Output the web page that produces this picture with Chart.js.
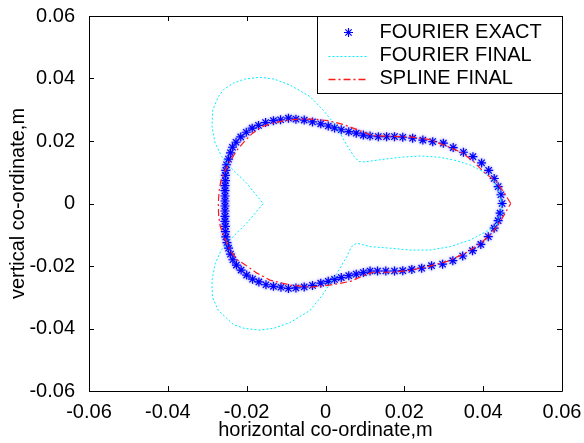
<!DOCTYPE html>
<html>
<head>
<meta charset="utf-8">
<script src="https://cdn.jsdelivr.net/npm/chart.js@4/dist/chart.umd.min.js"></script>
<style>
  html, body { margin: 0; padding: 0; background: #fff; }
  #wrap { width: 584px; height: 443px; }
</style>
</head>
<body>
<div id="wrap"><canvas id="c" width="584" height="443"></canvas></div>
<script>
const tickValues = [-0.06, -0.04, -0.02, 0, 0.02, 0.04, 0.06];
const tickLabels = ['-0.06', '-0.04', '-0.02', '0', '0.02', '0.04', '0.06'];
const seriesNames = ['FOURIER EXACT', 'FOURIER FINAL', 'SPLINE FINAL'];

// FOURIER EXACT (stars)
const exactX = [0.0448, 0.0445, 0.0438, 0.0428, 0.0414, 0.0396, 0.0374, 0.0350, 0.0324, 0.0299, 0.0272, 0.0247, 0.0221, 0.0196, 0.0175, 0.0155, 0.0134, 0.0113, 0.0096, 0.0078, 0.0059, 0.0040, 0.0023, 0.0007, -0.0012, -0.0033, -0.0054, -0.0075, -0.0094, -0.0114, -0.0132, -0.0152, -0.0170, -0.0186, -0.0201, -0.0215, -0.0227, -0.0236, -0.0241, -0.0246, -0.0251, -0.0253, -0.0254, -0.0254, -0.0255, -0.0255, -0.0255, -0.0255,
  -0.0255, -0.0255, -0.0255, -0.0255, -0.0254, -0.0254, -0.0253, -0.0250, -0.0246, -0.0241, -0.0235, -0.0226, -0.0214, -0.0200, -0.0185, -0.0169, -0.0151, -0.0132, -0.0113, -0.0094, -0.0075, -0.0054, -0.0033, -0.0012, 0.0007, 0.0023, 0.0040, 0.0059, 0.0078, 0.0096, 0.0113, 0.0132, 0.0153, 0.0175, 0.0196, 0.0219, 0.0244, 0.0269, 0.0297, 0.0323, 0.0348, 0.0373, 0.0394, 0.0413, 0.0428, 0.0438, 0.0443];
const exactY = [0.0000, 0.0028, 0.0054, 0.0080, 0.0106, 0.0130, 0.0150, 0.0164, 0.0179, 0.0193, 0.0198, 0.0203, 0.0209, 0.0212, 0.0214, 0.0214, 0.0214, 0.0216, 0.0219, 0.0225, 0.0230, 0.0236, 0.0242, 0.0248, 0.0255, 0.0261, 0.0267, 0.0270, 0.0273, 0.0268, 0.0265, 0.0259, 0.0250, 0.0241, 0.0228, 0.0213, 0.0196, 0.0180, 0.0162, 0.0142, 0.0124, 0.0106, 0.0090, 0.0073, 0.0057, 0.0041, 0.0024, 0.0008,
  -0.0008, -0.0024, -0.0041, -0.0057, -0.0073, -0.0090, -0.0107, -0.0125, -0.0143, -0.0162, -0.0180, -0.0197, -0.0213, -0.0229, -0.0242, -0.0251, -0.0260, -0.0265, -0.0268, -0.0272, -0.0270, -0.0267, -0.0262, -0.0255, -0.0249, -0.0243, -0.0237, -0.0231, -0.0226, -0.0221, -0.0216, -0.0216, -0.0216, -0.0216, -0.0215, -0.0211, -0.0207, -0.0199, -0.0194, -0.0183, -0.0168, -0.0151, -0.0131, -0.0106, -0.0079, -0.0055, -0.0031];

// FOURIER FINAL (cyan dotted)
const fourierX = [0.0444, 0.0438, 0.0426, 0.0400, 0.0367, 0.0333, 0.0290, 0.0240, 0.0189, 0.0138, 0.0100, 0.0085, 0.0073, 0.0060, 0.0049, 0.0028, -0.0006, -0.0039, -0.0090, -0.0130, -0.0166, -0.0205, -0.0234, -0.0258, -0.0272, -0.0286, -0.0288, -0.0280, -0.0263, -0.0247, -0.0200, -0.0158, -0.0200, -0.0247, -0.0265, -0.0280, -0.0288, -0.0287, -0.0272, -0.0234, -0.0205, -0.0166, -0.0130, -0.0090, -0.0039, -0.0006, 0.0028, 0.0054, 0.0066, 0.0079, 0.0113, 0.0164, 0.0214, 0.0265, 0.0316, 0.0367, 0.0400, 0.0430, 0.0447, 0.0444];
const fourierY = [0.0011, 0.0043, 0.0075, 0.0102, 0.0123, 0.0137, 0.0148, 0.0152, 0.0148, 0.0140, 0.0133, 0.0134, 0.0150, 0.0175, 0.0198, 0.0246, 0.0299, 0.0342, 0.0379, 0.0398, 0.0404, 0.0398, 0.0385, 0.0365, 0.0342, 0.0299, 0.0246, 0.0193, 0.0150, 0.0123, 0.0065, 0.0000, -0.0063, -0.0122, -0.0150, -0.0193, -0.0246, -0.0299, -0.0342, -0.0387, -0.0400, -0.0405, -0.0399, -0.0381, -0.0342, -0.0290, -0.0225, -0.0170, -0.0138, -0.0127, -0.0138, -0.0143, -0.0149, -0.0149, -0.0138, -0.0117, -0.0095, -0.0074, -0.0031, 0.0011];

// SPLINE FINAL (red dash-dot)
const splineX = [0.0470, 0.0451, 0.0432, 0.0404, 0.0375, 0.0347, 0.0309, 0.0262, 0.0215, 0.0168, 0.0120, 0.0083, 0.0045, 0.0007, -0.0031, -0.0068, -0.0106, -0.0140, -0.0162, -0.0185, -0.0205, -0.0225, -0.0240, -0.0255, -0.0265, -0.0270, -0.0272, -0.0271, -0.0267, -0.0257, -0.0243, -0.0224, -0.0205, -0.0175, -0.0141, -0.0090, -0.0039, 0.0017, 0.0064, 0.0092, 0.0120, 0.0168, 0.0215, 0.0262, 0.0309, 0.0356, 0.0394, 0.0423, 0.0446, 0.0470];
const splineY = [0.0000, 0.0039, 0.0071, 0.0098, 0.0135, 0.0162, 0.0183, 0.0205, 0.0213, 0.0215, 0.0217, 0.0235, 0.0253, 0.0265, 0.0270, 0.0270, 0.0265, 0.0255, 0.0245, 0.0225, 0.0200, 0.0170, 0.0140, 0.0105, 0.0075, 0.0040, 0.0000, -0.0041, -0.0073, -0.0105, -0.0148, -0.0180, -0.0195, -0.0222, -0.0245, -0.0261, -0.0268, -0.0260, -0.0249, -0.0233, -0.0220, -0.0220, -0.0214, -0.0201, -0.0185, -0.0158, -0.0127, -0.0094, -0.0052, 0.0000];

const pts = (xs, ys) => xs.map((x, i) => ({ x: x, y: ys[i] }));

const FONT = { family: "'Liberation Sans', Arial, sans-serif", size: 20 };
const BLUE = '#0000ff', CYAN = '#00eeff', RED = '#ff1a1a';
const CYAN_DASH = [2, 2], RED_DASH = [7, 3, 2, 3];

function drawStar(ctx, x, y, r) {
  const d = r * 0.7071;
  ctx.beginPath();
  ctx.moveTo(x - r, y); ctx.lineTo(x + r, y);
  ctx.moveTo(x, y - r); ctx.lineTo(x, y + r);
  ctx.moveTo(x - d, y - d); ctx.lineTo(x + d, y + d);
  ctx.moveTo(x - d, y + d); ctx.lineTo(x + d, y - d);
  ctx.stroke();
}

// soft halo under the star markers
const haloPlugin = {
  id: 'halo',
  beforeDatasetDraw(chart, args) {
    if (args.index !== 0) return;
    chart.ctx.save();
    chart.ctx.shadowColor = 'rgba(90,90,255,0.8)';
    chart.ctx.shadowBlur = 3;
  },
  afterDatasetDraw(chart, args) {
    if (args.index !== 0) return;
    chart.ctx.restore();
  }
};

// matlab style box with inward ticks, then the legend box
const framePlugin = {
  id: 'frame',
  afterDraw(chart) {
    const { ctx, chartArea: a, scales } = chart;
    ctx.save();
    ctx.strokeStyle = '#000';
    ctx.lineWidth = 1;
    ctx.beginPath();
    ctx.rect(a.left + 0.5, a.top + 0.5, a.right - a.left, a.bottom - a.top);
    tickValues.forEach(v => {
      const px = Math.round(scales.x.getPixelForValue(v)) + 0.5;
      ctx.moveTo(px, a.bottom); ctx.lineTo(px, a.bottom - 5);
      ctx.moveTo(px, a.top); ctx.lineTo(px, a.top + 5);
      const py = Math.round(scales.y.getPixelForValue(v)) + 0.5;
      ctx.moveTo(a.left, py); ctx.lineTo(a.left + 5, py);
      ctx.moveTo(a.right, py); ctx.lineTo(a.right - 5, py);
    });
    ctx.stroke();

    // legend
    const bx = 317.5, by = a.top + 0.5, bw = a.right - 317, bh = 77;
    ctx.fillStyle = '#fff';
    ctx.fillRect(bx, by, bw, bh);
    ctx.strokeStyle = '#000';
    ctx.strokeRect(bx, by, bw, bh);
    const rows = [by + 16, by + 39, by + 62];
    ctx.font = FONT.size + 'px ' + FONT.family;
    ctx.textBaseline = 'middle';
    ctx.textAlign = 'left';

    ctx.save();
    ctx.strokeStyle = BLUE;
    ctx.lineWidth = 1.2;
    drawStar(ctx, bx + 31, rows[0], 4.5);
    ctx.restore();

    [[CYAN, CYAN_DASH, rows[1], 1], [RED, RED_DASH, rows[2], 1.6]].forEach(([col, dash, ry, lw]) => {
      ctx.save();
      ctx.strokeStyle = col;
      ctx.lineWidth = lw;
      ctx.setLineDash(dash);
      ctx.beginPath();
      ctx.moveTo(bx + 11, Math.round(ry) + 0.5);
      ctx.lineTo(bx + 50, Math.round(ry) + 0.5);
      ctx.stroke();
      ctx.restore();
    });

    ctx.fillStyle = '#000';
    rows.forEach((ry, i) => ctx.fillText(seriesNames[i], bx + 62, ry));
    ctx.restore();
  }
};

new Chart(document.getElementById('c'), {
  type: 'scatter',
  data: {
    datasets: [
      {
        label: seriesNames[0],
        data: pts(exactX, exactY),
        showLine: false,
        pointStyle: 'star',
        pointRadius: 4.5,
        pointBorderWidth: 1.2,
        borderColor: BLUE,
        backgroundColor: BLUE,
        order: 3
      },
      {
        label: seriesNames[1],
        data: pts(fourierX, fourierY),
        showLine: true,
        pointRadius: 0,
        borderColor: CYAN,
        borderWidth: 1,
        borderDash: CYAN_DASH,
        tension: 0,
        order: 2
      },
      {
        label: seriesNames[2],
        data: pts(splineX, splineY),
        showLine: true,
        pointRadius: 0,
        borderColor: RED,
        borderWidth: 1.2,
        borderDash: RED_DASH,
        tension: 0,
        order: 1
      }
    ]
  },
  options: {
    responsive: false,
    animation: false,
    events: [],
    devicePixelRatio: 1,
    layout: { padding: { top: 16, right: 22, left: 0, bottom: 0 } },
    plugins: { legend: { display: false }, tooltip: { enabled: false } },
    scales: {
      x: {
        type: 'linear', min: -0.06, max: 0.06,
        afterBuildTicks: s => { s.ticks = tickValues.map(v => ({ value: v })); },
        ticks: { callback: (v, i) => tickLabels[i], color: '#000', font: FONT, padding: 1, maxRotation: 0, autoSkip: false },
        grid: { display: false },
        border: { display: false },
        title: { display: true, text: 'horizontal co-ordinate,m', color: '#000', font: FONT, padding: { top: 0, bottom: 1 } },
        afterFit: s => { s.height = 52; s.paddingLeft = 0; s.paddingRight = 0; }
      },
      y: {
        type: 'linear', min: -0.06, max: 0.06,
        afterBuildTicks: s => { s.ticks = tickValues.map(v => ({ value: v })); },
        ticks: { callback: (v, i) => tickLabels[i], color: '#000', font: FONT, padding: 6, autoSkip: false },
        grid: { display: false },
        border: { display: false },
        title: { display: true, text: 'vertical co-ordinate,m', color: '#000', font: FONT, padding: { top: 6, bottom: 0 } },
        afterFit: s => { s.width = 89; s.paddingTop = 0; s.paddingBottom = 0; }
      }
    }
  },
  plugins: [haloPlugin, framePlugin]
});
</script>
</body>
</html>
